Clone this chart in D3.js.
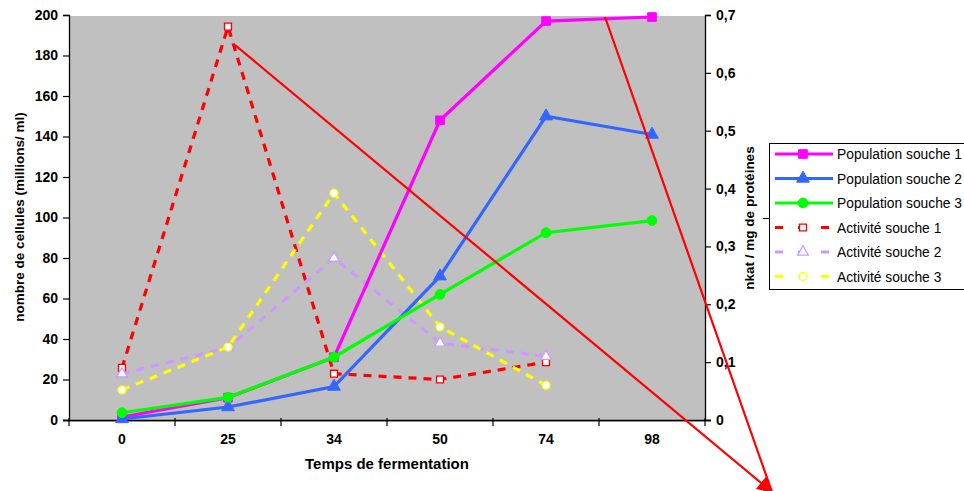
<!DOCTYPE html>
<html><head><meta charset="utf-8">
<script src="https://cdn.jsdelivr.net/npm/d3@7"></script>
<style>
html,body{margin:0;padding:0;background:#fff;overflow:hidden;}
svg{display:block;font-family:Arial,"Liberation Sans",sans-serif;}
</style></head>
<body>
<svg id="c" width="964" height="491"></svg>
<script>
// ---- data ----
const categories = ["0","25","34","50","74","98"];
const popSouche1 = [1.5, 11, 31, 148, 197, 199];
const popSouche2 = [0.5, 6.4, 16.5, 71, 150, 141];
const popSouche3 = [3.6, 11.2, 31, 62, 92.5, 98.5];
const actSouche1 = [0.09, 0.68, 0.08, 0.07, 0.10, null];
const actSouche2 = [0.08, 0.125, 0.28, 0.133, 0.11, null];
const actSouche3 = [0.052, 0.126, 0.392, 0.161, 0.06, null];
const leftTicks = [0,20,40,60,80,100,120,140,160,180,200];
const rightTicks = [0,0.1,0.2,0.3,0.4,0.5,0.6,0.7];
const legendLabels = ["Population souche 1","Population souche 2","Population souche 3","Activité souche 1","Activité souche 2","Activité souche 3"];

const svg = d3.select("#c");
const L = 69, R = 705, T = 15, B = 420;

const x = d3.scaleBand().domain(categories).range([L, R]).padding(0);
const yL = d3.scaleLinear().domain([0,200]).range([B, T]);
const yR = d3.scaleLinear().domain([0,0.7]).range([B, T]);
const cx = c => x(c) + x.bandwidth()/2;

// plot background
svg.append("rect").attr("x", L).attr("y", T+1).attr("width", R-L).attr("height", B-T+1).attr("fill", "#c0c0c0");

// axes
const fmtR = d => d === 0 ? "0" : d.toFixed(1).replace(".", ",");
const gL = svg.append("g").attr("transform", `translate(${L},0)`)
  .call(d3.axisLeft(yL).tickValues(leftTicks).tickSize(6).tickPadding(5));
const gR = svg.append("g").attr("transform", `translate(${R},0)`)
  .call(d3.axisRight(yR).tickValues(rightTicks).tickSize(6).tickPadding(5).tickFormat(fmtR));
const gX = svg.append("g").attr("transform", `translate(0,${B})`)
  .call(d3.axisBottom(x).tickSize(0).tickPadding(14));
[gL, gR, gX].forEach(g => {
  g.selectAll("text").attr("font-size", 14).attr("font-weight", "bold").attr("fill", "#000")
    .attr("font-family", "Arial, 'Liberation Sans', sans-serif");
  g.selectAll("path.domain").attr("stroke", "#000").attr("stroke-width", 1.3);
  g.selectAll("line").attr("stroke", "#000").attr("stroke-width", 1.2);
});
gX.select("path.domain").attr("d", `M${L-6},0.5H${R+6}`);
// band-boundary ticks on x axis
const bounds = categories.map(c => x(c)).concat([R]);
gX.selectAll("line.bt").data(bounds).join("line").attr("class","bt")
  .attr("x1", d => d).attr("x2", d => d).attr("y1", -2).attr("y2", 6)
  .attr("stroke", "#000").attr("stroke-width", 1.2);

// axis titles
svg.append("text").attr("transform", "translate(24,217) rotate(-90)").attr("text-anchor","middle")
  .attr("font-size", 13.5).attr("font-weight","bold").text("nombre de cellules (millions/ ml)");
svg.append("text").attr("transform", "translate(754,218) rotate(-90)").attr("text-anchor","middle")
  .attr("font-size", 13.5).attr("font-weight","bold").text("nkat / mg de protéines");
svg.append("text").attr("x", 387).attr("y", 469).attr("text-anchor","middle")
  .attr("font-size", 15).attr("font-weight","bold").text("Temps de fermentation");

// series definitions
const series = [
  {name: legendLabels[0], vals: popSouche1, y: yL, color: "#ff00ff", dash: null, sym: d3.symbolSquare, size: 75, fill: "#ff00ff"},
  {name: legendLabels[1], vals: popSouche2, y: yL, color: "#3366ff", dash: null, sym: d3.symbolTriangle, size: 70, fill: "#3366ff"},
  {name: legendLabels[2], vals: popSouche3, y: yL, color: "#00ff00", dash: null, sym: d3.symbolCircle, size: 75, fill: "#00ff00"},
  {name: legendLabels[3], vals: actSouche1, y: yR, color: "#ff0000", dash: "8,7", sym: d3.symbolSquare, size: 48, fill: "#ffffff"},
  {name: legendLabels[4], vals: actSouche2, y: yR, color: "#cc99ff", dash: "8,7", sym: d3.symbolTriangle, size: 50, fill: "#ffffff"},
  {name: legendLabels[5], vals: actSouche3, y: yR, color: "#ffff00", dash: "8,7", sym: d3.symbolCircle, size: 50, fill: "#ffffff"}
];

const drawOrder = [3,4,5,0,1,2];
drawOrder.forEach(i => {
  const s = series[i];
  const pts = categories.map((c, k) => ({c, v: s.vals[k]})).filter(p => p.v !== null);
  const line = d3.line().x(p => cx(p.c)).y(p => s.y(p.v));
  svg.append("path").attr("d", line(pts)).attr("fill","none").attr("stroke", s.color)
    .attr("stroke-width", 3.2).attr("stroke-dasharray", s.dash);
  svg.append("g").selectAll("path").data(pts).join("path")
    .attr("transform", p => `translate(${cx(p.c)},${s.y(p.v)})`)
    .attr("d", d3.symbol(s.sym, s.size))
    .attr("fill", s.fill).attr("stroke", s.color).attr("stroke-width", s.fill === "#ffffff" ? 1.3 : 1);
});

// legend
const lg = svg.append("g");
lg.append("rect").attr("x", 769.5).attr("y", 143.5).attr("width", 260).attr("height", 146)
  .attr("fill", "#fff").attr("stroke", "#000").attr("stroke-width", 1);
lg.append("line").attr("x1", 763).attr("x2", 769).attr("y1", 218.5).attr("y2", 218.5).attr("stroke","#000");
series.forEach((s, i) => {
  const yy = 154 + i * 24.5;
  lg.append("line").attr("x1", 775).attr("x2", 833).attr("y1", yy).attr("y2", yy)
    .attr("stroke", s.color).attr("stroke-width", 3.2).attr("stroke-dasharray", s.dash ? "8,15" : null);
  lg.append("path").attr("transform", `translate(803,${yy})`).attr("d", d3.symbol(s.sym, s.size))
    .attr("fill", s.fill).attr("stroke", s.color).attr("stroke-width", s.fill === "#ffffff" ? 1.3 : 1);
  lg.append("text").attr("x", 837).attr("y", yy + 5).attr("font-size", 13.8).text(s.name);
});

// annotation arrows (overlay drawing)
const defs = svg.append("defs");
defs.append("marker").attr("id","ah").attr("viewBox","0 0 10 10").attr("refX",9).attr("refY",5)
  .attr("markerWidth",20).attr("markerHeight",16).attr("markerUnits","userSpaceOnUse")
  .attr("orient","auto").append("path").attr("d","M0,0L10,5L0,10Z").attr("fill","#ff0000");
const tip = [772, 492];
const annStarts = [[235, 45], [605, 17]];
annStarts.forEach((st, i) => {
  svg.append("line").attr("x1", st[0]).attr("y1", st[1]).attr("x2", tip[0]).attr("y2", tip[1])
    .attr("stroke", "#ff0000").attr("stroke-width", 2.2).attr("marker-end", i === 0 ? "url(#ah)" : null);
});
</script>
</body></html>
